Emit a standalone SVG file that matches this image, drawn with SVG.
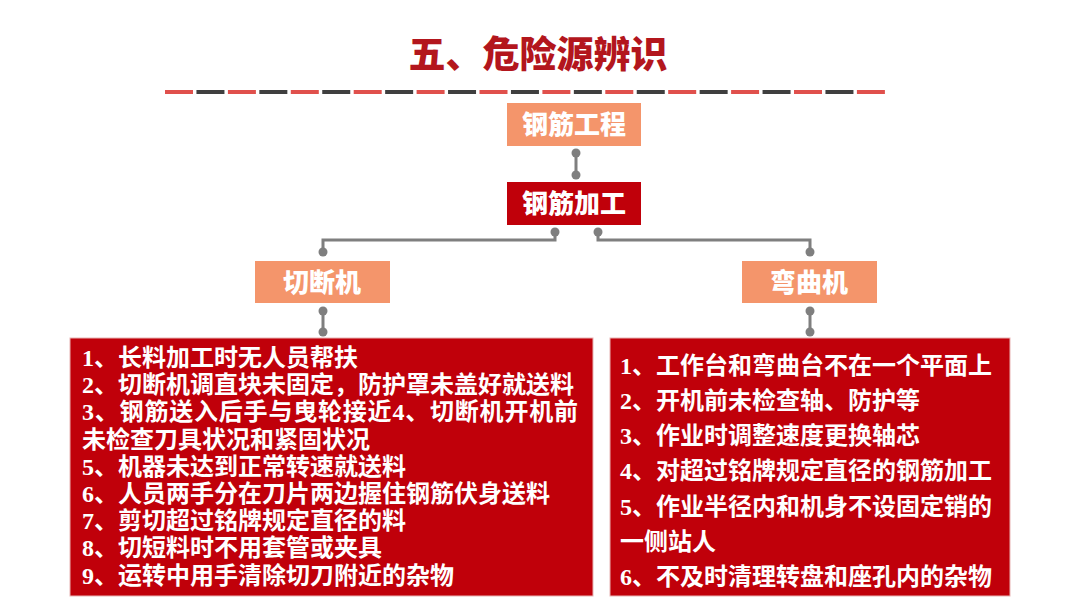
<svg xmlns="http://www.w3.org/2000/svg" width="1080" height="608" viewBox="0 0 1080 608">
<style>
.cjk{font-family:"Noto Sans CJK SC","Noto Sans",sans-serif;font-weight:700}
.heavy{font-weight:900}
.num{font-family:"Liberation Serif",serif;font-weight:700}
.nodeText{fill:#ffffff;font-size:26px;text-anchor:middle}
.list{fill:#ffffff;font-size:24px}
.orange{fill:#f4956b}
.dark{fill:#c0000a}
.conn{fill:none;stroke:#7f7f7f;stroke-width:3}
.dot{fill:#7f7f7f}
</style>
<rect width="1080" height="608" fill="#ffffff"/>
<g id="title">
<text x="538" y="68" class="cjk heavy" font-size="37" fill="#b3161d" text-anchor="middle">五、危险源辨识</text>
<line x1="165" y1="92" x2="885" y2="92" stroke="#e0504c" stroke-width="4" stroke-dasharray="28 34.9"/>
<line x1="196.45" y1="92" x2="853.55" y2="92" stroke="#3f3f3f" stroke-width="4" stroke-dasharray="28 34.9"/>
</g>
<g id="connectors">
<line class="conn" x1="576" y1="153" x2="576" y2="175"/>
<circle class="dot" cx="576" cy="153" r="4.5"/>
<circle class="dot" cx="576" cy="175" r="4.5"/>
<polyline class="conn" points="555,232 555,240 323,240 323,252"/>
<circle class="dot" cx="555" cy="232" r="4.5"/>
<circle class="dot" cx="323" cy="252" r="4.5"/>
<polyline class="conn" points="598,232 598,240 810,240 810,252"/>
<circle class="dot" cx="598" cy="232" r="4.5"/>
<circle class="dot" cx="810" cy="252" r="4.5"/>
<line class="conn" x1="323" y1="311" x2="323" y2="332"/>
<circle class="dot" cx="323" cy="311" r="4.5"/>
<circle class="dot" cx="323" cy="332" r="4.5"/>
<line class="conn" x1="810" y1="311" x2="810" y2="332"/>
<circle class="dot" cx="810" cy="311" r="4.5"/>
<circle class="dot" cx="810" cy="332" r="4.5"/>
</g>
<g id="node-gangjin-gongcheng">
<rect class="orange" x="507" y="103" width="134" height="43"/>
<text class="cjk heavy nodeText" x="574" y="134">钢筋工程</text>
</g>
<g id="node-gangjin-jiagong">
<rect class="dark" x="507" y="182" width="134" height="43"/>
<text class="cjk heavy nodeText" x="574" y="213">钢筋加工</text>
</g>
<g id="node-qieduanji">
<rect class="orange" x="255" y="261" width="135" height="42"/>
<text class="cjk heavy nodeText" x="322" y="292">切断机</text>
</g>
<g id="node-wanquji">
<rect class="orange" x="742" y="261" width="135" height="42"/>
<text class="cjk heavy nodeText" x="809" y="292">弯曲机</text>
</g>
<g id="node-left-list">
<rect class="dark" x="70" y="338" width="523" height="258" stroke="#e8b4b4" stroke-width="1"/>
<text class="cjk list" x="82" y="366"><tspan class="num">1</tspan>、长料加工时无人员帮扶</text>
<text class="cjk list" x="82" y="393.2"><tspan class="num">2</tspan>、切断机调直块未固定，防护罩未盖好就送料</text>
<text class="cjk list" x="82" y="420.4" textLength="496" lengthAdjust="spacing"><tspan class="num">3</tspan>、钢筋送入后手与曳轮接近<tspan class="num">4</tspan>、切断机开机前</text>
<text class="cjk list" x="82" y="447.6">未检查刀具状况和紧固状况</text>
<text class="cjk list" x="82" y="474.8"><tspan class="num">5</tspan>、机器未达到正常转速就送料</text>
<text class="cjk list" x="82" y="502"><tspan class="num">6</tspan>、人员两手分在刀片两边握住钢筋伏身送料</text>
<text class="cjk list" x="82" y="529.2"><tspan class="num">7</tspan>、剪切超过铭牌规定直径的料</text>
<text class="cjk list" x="82" y="556.4"><tspan class="num">8</tspan>、切短料时不用套管或夹具</text>
<text class="cjk list" x="82" y="583.6"><tspan class="num">9</tspan>、运转中用手清除切刀附近的杂物</text>
</g>
<g id="node-right-list">
<rect class="dark" x="610" y="338" width="400" height="258" stroke="#e8b4b4" stroke-width="1"/>
<text class="cjk list" x="620" y="373.5"><tspan class="num">1</tspan>、工作台和弯曲台不在一个平面上</text>
<text class="cjk list" x="620" y="408.8"><tspan class="num">2</tspan>、开机前未检查轴、防护等</text>
<text class="cjk list" x="620" y="444"><tspan class="num">3</tspan>、作业时调整速度更换轴芯</text>
<text class="cjk list" x="620" y="479.3"><tspan class="num">4</tspan>、对超过铭牌规定直径的钢筋加工</text>
<text class="cjk list" x="620" y="514.5"><tspan class="num">5</tspan>、作业半径内和机身不设固定销的</text>
<text class="cjk list" x="620" y="549.8">一侧站人</text>
<text class="cjk list" x="620" y="585"><tspan class="num">6</tspan>、不及时清理转盘和座孔内的杂物</text>
</g>
</svg>
